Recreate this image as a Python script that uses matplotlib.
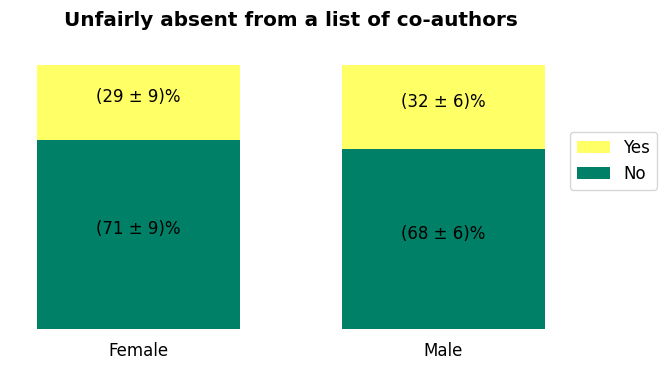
import numpy as np
import matplotlib.pyplot as plt

categories = ["Female", "Male"]
no_vals = [71.5, 68]
yes_vals = [28.5, 32]
no_text = ["(71 ± 9)%", "(68 ± 6)%"]
yes_text = ["(29 ± 9)%", "(32 ± 6)%"]

c_yes = (1.0, 1.0, 0.4)
c_no = (0.0, 0.5, 0.4)

fig = plt.figure(figsize=(6.71, 3.71), dpi=100)
ax = fig.add_axes([16.5 / 671, 42 / 371, 549 / 671, 264 / 371])

x = np.arange(len(categories))
w = 0.6656
ax.bar(x, no_vals, w, color=c_no, label="No")
ax.bar(x, yes_vals, w, bottom=no_vals, color=c_yes, label="Yes")

for i in range(len(categories)):
    ax.annotate(no_text[i], (x[i], no_vals[i] / 2),
                xytext=(0, 3.9), textcoords="offset points",
                ha="center", va="center", fontsize=12)
    ax.annotate(yes_text[i], (x[i], no_vals[i] + yes_vals[i] / 2),
                xytext=(0, 3.9), textcoords="offset points",
                ha="center", va="center", fontsize=12)

ax.set_xlim(-0.4, 1.4)
ax.set_ylim(0, 100)
ax.set_xticks(x)
ax.set_xticklabels(categories, fontsize=12)
ax.tick_params(axis="x", length=0, pad=9)
ax.set_yticks([])
for s in ax.spines.values():
    s.set_visible(False)

h, l = ax.get_legend_handles_labels()
fig.legend(h[::-1], l[::-1], loc="upper left", bbox_to_anchor=(570 / 671, 1 - 132 / 371),
           fontsize=12, borderaxespad=0)

fig.suptitle("Unfairly absent from a list of co-authors", fontsize=14.4,
             fontweight="bold", x=291 / 671, y=1 - 21 / 371, va="center")

fig.savefig("out.png", dpi=100)
